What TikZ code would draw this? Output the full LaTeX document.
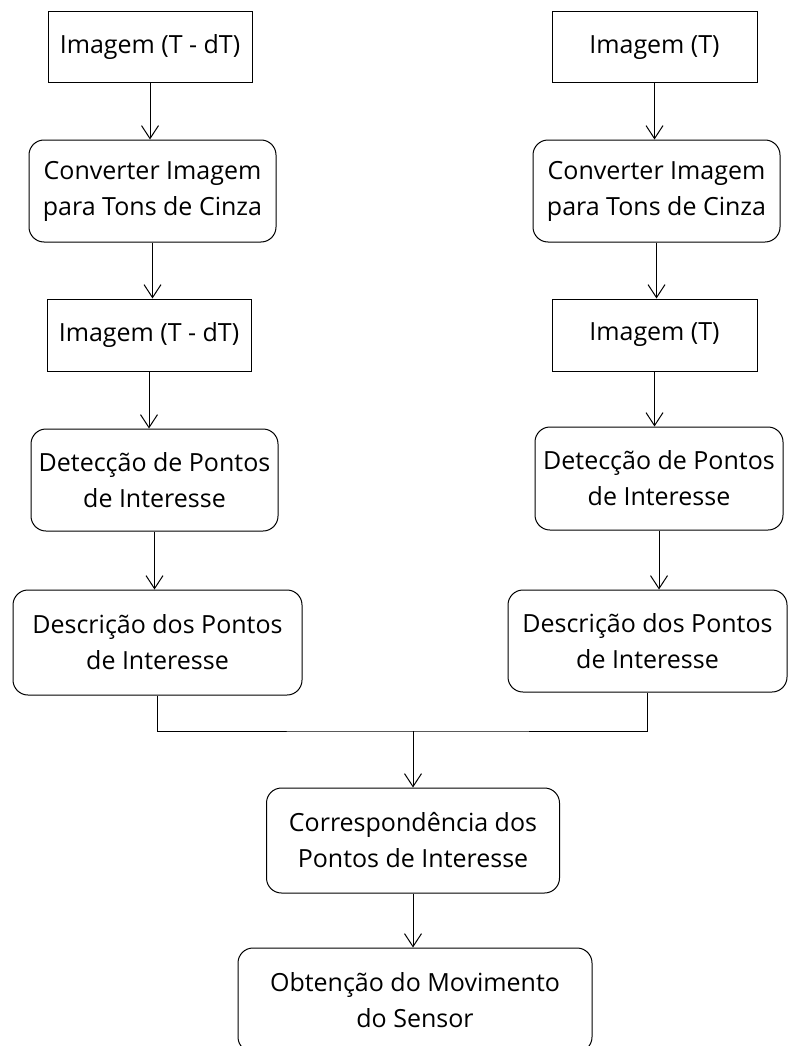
\documentclass[tikz,border=0pt]{standalone}
\usepackage{fontspec}
\setmainfont{Open Sans}
\usetikzlibrary{arrows.meta}

\begin{document}
\begin{tikzpicture}[x=1pt,y=-1pt]
\tikzstyle{imgbox}=[
  rectangle,
  draw,
  line width=1pt,
  inner sep=0pt,
  font=\fontsize{25}{36}\selectfont ]
\tikzstyle{procbox}=[
  rectangle,
  rounded corners=15pt,
  draw,
  line width=1pt,
  align=center,
  inner sep=0pt,
  font=\fontsize{25}{36}\selectfont ]
\tikzstyle{arr}=[line width=1pt, -{Straight Barb[length=13pt,width=17pt]}]
\useasboundingbox (0,0) rectangle (789,1046);
% left branch, image at T - dT
\node[imgbox, minimum width=204pt, minimum height=71pt] (limga) at (150,47.5) {Imagem (T - dT)};
\node[procbox, minimum width=247pt, minimum height=102pt] (lconv) at (152.5,191) {Converter Imagem\\para Tons de Cinza};
\node[imgbox, minimum width=204pt, minimum height=72pt] (limgb) at (149,335) {Imagem (T - dT)};
\node[procbox, minimum width=247pt, minimum height=102pt] (ldet) at (154.5,480) {Detecção de Pontos\\de Interesse};
\node[procbox, minimum width=289pt, minimum height=105pt] (ldesc) at (157.5,642.5) {Descrição dos Pontos\\de Interesse};
% right branch, image at T
\node[imgbox, minimum width=205pt, minimum height=71pt] (rimga) at (654.5,47.5) {Imagem (T)};
\node[procbox, minimum width=247pt, minimum height=102pt] (rconv) at (656.5,191) {Converter Imagem\\para Tons de Cinza};
\node[imgbox, minimum width=205pt, minimum height=72pt] (rimgb) at (654.5,335) {Imagem (T)};
\node[procbox, minimum width=248pt, minimum height=103pt] (rdet) at (659,478.5) {Detecção de Pontos\\de Interesse};
\node[procbox, minimum width=279pt, minimum height=102pt] (rdesc) at (647.5,641) {Descrição dos Pontos\\de Interesse};
% common part
\node[procbox, minimum width=293pt, minimum height=105pt] (corr) at (413,840.5) {Correspondência dos\\Pontos de Interesse};
\node[procbox, minimum width=354pt, minimum height=104pt] (movim) at (415,1000) {Obtenção do Movimento\\do Sensor};

\foreach \a/\b in {limga/lconv, lconv/limgb, limgb/ldet, ldet/ldesc,
                   rimga/rconv, rconv/rimgb, rimgb/rdet, rdet/rdesc}
  \draw[arr] (\a.south) -- (\a.south |- \b.north);

\coordinate (join) at (corr.north |- 0,731);
\draw[line width=1pt] (ldesc.south) |- (join) -| (rdesc.south);
\draw[arr] (join) -- (corr.north);
\draw[arr] (corr.south) -- (corr.south |- movim.north);
\end{tikzpicture}
\end{document}
